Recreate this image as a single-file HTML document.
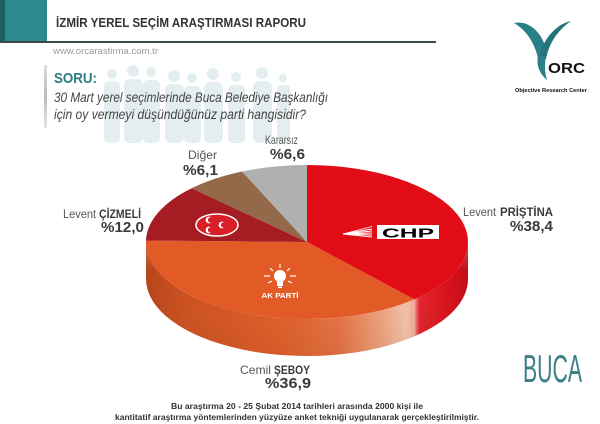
<!DOCTYPE html>
<html>
<head>
<meta charset="utf-8">
<style>
html,body{margin:0;padding:0;background:#fff;}
svg{display:block;}
text{font-family:"Liberation Sans",sans-serif;}
</style>
</head>
<body>
<svg width="600" height="424" viewBox="0 0 600 424" xmlns="http://www.w3.org/2000/svg">
<defs>
  <linearGradient id="akpSide" gradientUnits="userSpaceOnUse" x1="146" y1="0" x2="414" y2="0">
    <stop offset="0" stop-color="#b7441a"/>
    <stop offset="0.15" stop-color="#cd5120"/>
    <stop offset="0.5" stop-color="#df5f2a"/>
    <stop offset="0.72" stop-color="#e57242"/>
    <stop offset="0.88" stop-color="#eea27f"/>
    <stop offset="0.97" stop-color="#f4c2a8"/>
    <stop offset="1" stop-color="#eeae90"/>
  </linearGradient>
  <linearGradient id="chpSide" gradientUnits="userSpaceOnUse" x1="414" y1="0" x2="468" y2="0">
    <stop offset="0" stop-color="#f3a5a5"/>
    <stop offset="0.1" stop-color="#e2242a"/>
    <stop offset="0.6" stop-color="#d8111b"/>
    <stop offset="1" stop-color="#c20d17"/>
  </linearGradient>
  <linearGradient id="sideHi" x1="0" y1="0" x2="0" y2="1">
    <stop offset="0" stop-color="#fff" stop-opacity="0.25"/>
    <stop offset="0.25" stop-color="#fff" stop-opacity="0"/>
    <stop offset="1" stop-color="#000" stop-opacity="0.05"/>
  </linearGradient>
  <linearGradient id="soruLine" x1="0" y1="0" x2="0" y2="1">
    <stop offset="0" stop-color="#ddd"/>
    <stop offset="0.5" stop-color="#bbb"/>
    <stop offset="1" stop-color="#e5e5e5"/>
  </linearGradient>
</defs>

<!-- Header -->
<rect x="0" y="0" width="47" height="42" fill="#2a8a8f"/>
<rect x="0" y="0" width="5" height="42" fill="#1b5f63"/>
<rect x="0" y="41" width="436" height="2" fill="#3d4a4c"/>
<text x="56" y="27" font-size="13" font-weight="bold" fill="#333" textLength="250" lengthAdjust="spacingAndGlyphs">İZMİR YEREL SEÇİM ARAŞTIRMASI RAPORU</text>
<text x="53" y="54" font-size="9" fill="#9a9a9a" textLength="105" lengthAdjust="spacingAndGlyphs">www.orcarastirma.com.tr</text>

<!-- background people -->
<g fill="#e4eef1">
  <circle cx="112" cy="74" r="5"/><rect x="104" y="81" width="16" height="62" rx="5"/>
  <circle cx="133" cy="71" r="6"/><rect x="124" y="79" width="19" height="64" rx="6"/>
  <circle cx="151" cy="72" r="5"/><rect x="143" y="80" width="17" height="63" rx="5"/>
  <circle cx="174" cy="76" r="6"/><rect x="165" y="84" width="19" height="59" rx="6"/>
  <circle cx="192" cy="78" r="5"/><rect x="184" y="86" width="17" height="57" rx="5"/>
  <circle cx="213" cy="74" r="6"/><rect x="204" y="82" width="19" height="61" rx="6"/>
  <circle cx="236" cy="77" r="5"/><rect x="228" y="85" width="17" height="58" rx="5"/>
  <circle cx="262" cy="73" r="6"/><rect x="253" y="81" width="19" height="62" rx="6"/>
  <circle cx="283" cy="78" r="4"/><rect x="277" y="85" width="13" height="58" rx="4"/>
</g>

<!-- SORU -->
<rect x="44" y="65" width="3" height="63" fill="url(#soruLine)"/>
<text x="54" y="83" font-size="15" font-weight="bold" fill="#2b7c84" textLength="43" lengthAdjust="spacingAndGlyphs">SORU:</text>
<text x="54" y="102" font-size="14" font-style="italic" fill="#444" textLength="274" lengthAdjust="spacingAndGlyphs">30 Mart yerel seçimlerinde Buca Belediye Başkanlığı</text>
<text x="54" y="119" font-size="14" font-style="italic" fill="#444" textLength="252" lengthAdjust="spacingAndGlyphs">için oy vermeyi düşündüğünüz parti hangisidir?</text>

<!-- Logo -->
<g fill="#2a8088">
  <path d="M514,23 C531,19 546,37 547,56 L538,58 C534,42 526,30 514,23 Z"/>
  <path d="M571,21 C556,24 542,40 539,59 L546,59 C549,43 558,30 571,21 Z" fill="#23737a"/>
  <path d="M538,56 C536,66 540,74 547,80 C544,70 545,63 546,56 Z"/>
</g>
<text x="548" y="73" font-size="15" font-weight="bold" fill="#111" textLength="37" lengthAdjust="spacingAndGlyphs">ORC</text>
<text x="515" y="92" font-size="5.5" font-weight="bold" fill="#111" textLength="72" lengthAdjust="spacingAndGlyphs">Objective Research Center</text>

<!-- Pie sides -->
<path d="M468,242 A161,77 0 0 1 414.3,299.4 L414.3,336.4 A161,77 0 0 0 468,279 Z" fill="url(#chpSide)"/>
<path d="M414.3,299.4 A161,77 0 0 1 146,242 L146,279 A161,77 0 0 0 414.3,336.4 Z" fill="url(#akpSide)"/>
<path d="M468,242 A161,77 0 0 1 146,242 L146,279 A161,77 0 0 0 468,279 Z" fill="url(#sideHi)"/>

<!-- Pie tops -->
<path d="M307,242 L307,165 A161,77 0 0 1 414.3,299.4 Z" fill="#e20c17"/>
<path d="M307,242 L414.3,299.4 A161,77 0 0 1 146,240.5 Z" fill="#e25a25"/>
<path d="M307,242 L146,240.5 A161,77 0 0 1 191.7,188.2 Z" fill="#a51c22"/>
<path d="M307,242 L191.7,188.2 A161,77 0 0 1 242.1,171.5 Z" fill="#93694a"/>
<path d="M307,242 L242.1,171.5 A161,77 0 0 1 307,165 Z" fill="#b0b0b0"/>

<!-- CHP logo -->
<g stroke="#fff" stroke-width="0.9" fill="none">
  <line x1="343" y1="234" x2="372" y2="226.5"/>
  <line x1="343" y1="234" x2="372" y2="229"/>
  <line x1="343" y1="234" x2="372" y2="231"/>
  <line x1="343" y1="234" x2="372" y2="233"/>
  <line x1="343" y1="234" x2="372" y2="235"/>
  <line x1="343" y1="234" x2="372" y2="237"/>
</g>
<rect x="377" y="225" width="62" height="14" fill="#fff"/>
<text x="408" y="237.5" font-size="13" font-weight="900" fill="#000" text-anchor="middle" textLength="52" lengthAdjust="spacingAndGlyphs">CHP</text>

<!-- MHP logo -->
<ellipse cx="217" cy="225" rx="21" ry="11" fill="#d81e27" stroke="#fff" stroke-width="1.5"/>
<g fill="#fff">
  <circle cx="209" cy="220" r="3.4"/><circle cx="222" cy="225" r="3.4"/><circle cx="209" cy="230" r="3.4"/>
</g>
<g fill="#d81e27">
  <circle cx="210.6" cy="220" r="2.7"/><circle cx="223.6" cy="225" r="2.7"/><circle cx="210.6" cy="230" r="2.7"/>
</g>

<!-- AKP logo -->
<g stroke="#fff" stroke-width="1.2">
  <line x1="280" y1="264" x2="280" y2="268"/>
  <line x1="270" y1="268" x2="273" y2="271"/>
  <line x1="290" y1="268" x2="287" y2="271"/>
  <line x1="264" y1="276" x2="270" y2="276"/>
  <line x1="290" y1="276" x2="296" y2="276"/>
  <line x1="268" y1="283" x2="272" y2="281"/>
  <line x1="292" y1="283" x2="288" y2="281"/>
</g>
<circle cx="280" cy="276" r="6" fill="#fff"/>
<rect x="277" y="280" width="6" height="6" fill="#fff"/>
<rect x="278" y="286.5" width="4" height="1.5" fill="#fff"/>
<text x="280" y="298" font-size="7.5" font-weight="bold" fill="#fff" text-anchor="middle" textLength="37" lengthAdjust="spacingAndGlyphs">AK PARTİ</text>

<!-- Labels -->
<text x="265" y="144" font-size="12" fill="#555" textLength="33" lengthAdjust="spacingAndGlyphs">Kararsız</text>
<text x="270" y="159" font-size="15" font-weight="bold" fill="#3a3a3a" textLength="35" lengthAdjust="spacingAndGlyphs">%6,6</text>

<text x="188" y="159" font-size="12" fill="#555" textLength="29" lengthAdjust="spacingAndGlyphs">Diğer</text>
<text x="183" y="175" font-size="15" font-weight="bold" fill="#3a3a3a" textLength="35" lengthAdjust="spacingAndGlyphs">%6,1</text>

<text x="63" y="218" font-size="12" fill="#555" textLength="33" lengthAdjust="spacingAndGlyphs">Levent</text>
<text x="99" y="218" font-size="12" font-weight="bold" fill="#3a3a3a" textLength="42" lengthAdjust="spacingAndGlyphs">ÇİZMELİ</text>
<text x="101" y="232" font-size="15" font-weight="bold" fill="#3a3a3a" textLength="43" lengthAdjust="spacingAndGlyphs">%12,0</text>

<text x="463" y="216" font-size="12" fill="#555" textLength="33" lengthAdjust="spacingAndGlyphs">Levent</text>
<text x="500" y="216" font-size="12" font-weight="bold" fill="#3a3a3a" textLength="53" lengthAdjust="spacingAndGlyphs">PRİŞTİNA</text>
<text x="510" y="231" font-size="15" font-weight="bold" fill="#3a3a3a" textLength="43" lengthAdjust="spacingAndGlyphs">%38,4</text>

<text x="240" y="374" font-size="12" fill="#555" textLength="31" lengthAdjust="spacingAndGlyphs">Cemil</text>
<text x="274" y="374" font-size="12" font-weight="bold" fill="#3a3a3a" textLength="36" lengthAdjust="spacingAndGlyphs">ŞEBOY</text>
<text x="265" y="388" font-size="15" font-weight="bold" fill="#3a3a3a" textLength="46" lengthAdjust="spacingAndGlyphs">%36,9</text>

<!-- BUCA -->
<text x="523" y="382" font-size="39" fill="#3a7f86" textLength="59" lengthAdjust="spacingAndGlyphs">BUCA</text>

<!-- Footer -->
<text x="171" y="409" font-size="8" font-weight="bold" fill="#333" textLength="252" lengthAdjust="spacingAndGlyphs">Bu araştırma 20 - 25 Şubat 2014 tarihleri arasında  2000 kişi ile</text>
<text x="115" y="420" font-size="8" font-weight="bold" fill="#333" textLength="364" lengthAdjust="spacingAndGlyphs">kantitatif araştırma yöntemlerinden yüzyüze anket tekniği  uygulanarak gerçekleştirilmiştir.</text>
</svg>
</body>
</html>
